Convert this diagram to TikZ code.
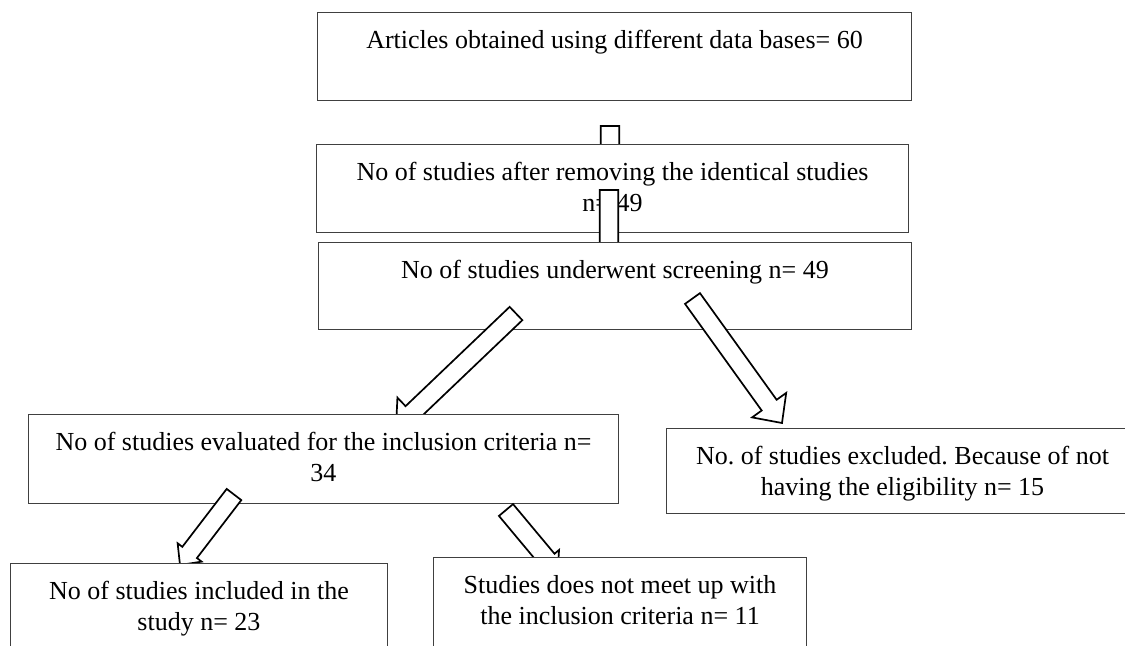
\documentclass[tikz,border=0pt]{standalone}
\usepackage{fontspec}
\setmainfont{Liberation Serif}
\usetikzlibrary{calc}
\frenchspacing
\newcommand\shaftw{4.6pt}
\newcommand\headw{10.5pt}
\newcommand\headlen{11pt}
\newcommand\cellbody[3]{\parbox[c][#2][t]{#1}{\centering\rule{0pt}{18pt}#3}}
\newcommand\fatarrow[3]{%
  \draw[arrowline] let \p1=($(#3)!{#1*\headlen}!(#2)$) in
    ($(#2)!\shaftw!90:(#3)$) -- ($(\p1)!\shaftw!90:(#3)$) -- ($(\p1)!{#1*\headw}!90:(#3)$) -- (#3)
    -- ($(\p1)!{#1*\headw}!-90:(#3)$) -- ($(\p1)!\shaftw!-90:(#3)$) -- ($(#2)!\shaftw!-90:(#3)$) -- cycle;}

\begin{document}
\begin{tikzpicture}[x=0.5pt, y=-0.5pt,
    stage/.style={draw=black!75, line width=0.5pt, fill=white, inner sep=0pt, anchor=north west,
      font=\fontsize{13}{15.5}\selectfont},
    arrowline/.style={draw=black, line width=0.85pt, fill=white, line join=miter}]
        \path[use as bounding box, clip] (0,0) rectangle (1125,645);
        \coordinate (a1s) at (610,126);
        \coordinate (a1e) at (610,175);
        \coordinate (a2s) at (609,190);
        \coordinate (a2e) at (609,270);
        \coordinate (a3ls) at (516,313.5);
        \coordinate (a3le) at (396,428);
        \coordinate (a3rs) at (692.5,298.5);
        \coordinate (a3re) at (782,423);
        \coordinate (a4ls) at (234,494.5);
        \coordinate (a4le) at (180,565);
        \coordinate (a4rs) at (506,510);
        \coordinate (a4re) at (557.6,571.8);

        \node[stage] (art) at (317,12) {\cellbody{297pt}{44pt}{Articles obtained using different data bases= 60}};
        \fatarrow{1}{a1s}{a1e}
        \node[stage] (dedup) at (316,144) {\cellbody{296pt}{44pt}{No of studies after removing the identical studies\\ n= 49}};
        \fatarrow{1}{a2s}{a2e}
        \node[stage] (screen) at (318,242) {\cellbody{296.5pt}{43.5pt}{No of studies underwent screening n= 49}};
        \fatarrow{1}{a3ls}{a3le}
        \fatarrow{1}{a3rs}{a3re}
        \node[stage] (evald) at (28,414) {\cellbody{295pt}{44.5pt}{No of studies evaluated for the inclusion criteria n=\\ 34}};
        \node[stage] (excl) at (666,428) {\cellbody{236pt}{42.5pt}{No. of studies excluded. Because of not\\ having the eligibility n= 15}};
        \fatarrow{0.72}{a4ls}{a4le}
        \fatarrow{0.72}{a4rs}{a4re}
        \node[stage] (incl) at (10,563) {\cellbody{188.5pt}{50pt}{No of studies included in the\\ study n= 23}};
        \node[stage] (notmet) at (433,557) {\cellbody{186.5pt}{53pt}{Studies does not meet up with\\ the inclusion criteria n= 11}};
    \end{tikzpicture}
\end{document}
